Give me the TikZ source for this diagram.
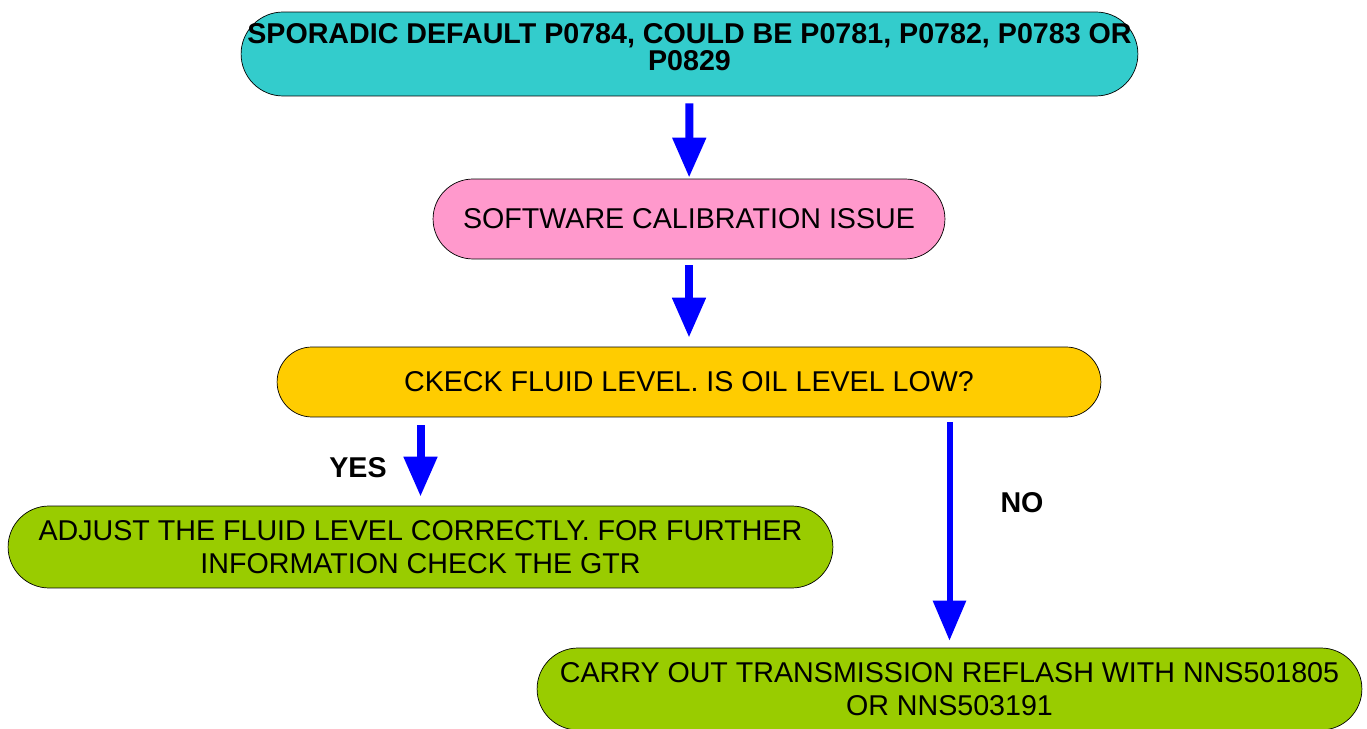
\documentclass[tikz,border=0pt]{standalone}
\usepackage{fontspec}
\setmainfont{Liberation Sans}
\usepackage{tikz}
\usetikzlibrary{arrows.meta,calc,positioning}
\definecolor{boxcyan}{HTML}{33CCCC}
\definecolor{boxpink}{HTML}{FF99CC}
\definecolor{boxyellow}{HTML}{FFCC00}
\definecolor{boxgreen}{HTML}{99CC00}
\definecolor{arrowblue}{HTML}{0000FF}
\tikzset{
    x=0.02cm, y=-0.02cm,
    box/.style ={rectangle, draw, thin, inner sep=0pt, align=center,
                 font=\fontsize{16.3}{19}\selectfont},
    flow/.style = {draw=arrowblue, line width=0.16cm,
                   -{Triangle[width=0.64cm,length=0.8cm]}},
    answer/.style = {inner sep=0pt, font=\fontsize{16.3}{19}\selectfont\bfseries}
}
\begin{document}
\begin{tikzpicture}
    \useasboundingbox (0,0) rectangle (1367,729);

    %%Nodes
    \node[box, fill=boxcyan, minimum width=17.94cm, minimum height=1.68cm, rounded corners=0.84cm,
          font=\fontsize{16.3}{15.5}\selectfont\bfseries, text depth=0.29cm] (sporadic) at (689.5,54)
        {SPORADIC DEFAULT P0784, COULD BE P0781, P0782, P0783 OR\\P0829};
    \node[box, fill=boxpink, minimum width=10.24cm, minimum height=1.6cm, rounded corners=0.8cm] (software) at (689,219)
        {SOFTWARE CALIBRATION ISSUE};
    \node[box, fill=boxyellow, minimum width=16.48cm, minimum height=1.4cm, rounded corners=0.7cm] (ckeck) at (689,382)
        {CKECK FLUID LEVEL. IS OIL LEVEL LOW?};
    \node[box, fill=boxgreen, minimum width=16.5cm, minimum height=1.64cm, rounded corners=0.82cm] (adjust) at (420.5,547)
        {ADJUST THE FLUID LEVEL CORRECTLY. FOR FURTHER\\INFORMATION CHECK THE GTR};
    \node[box, fill=boxgreen, minimum width=16.5cm, minimum height=1.64cm, rounded corners=0.82cm] (reflash) at (949.5,689)
        {CARRY OUT TRANSMISSION REFLASH WITH NNS501805\\OR NNS503191};

    %%Answers
    \node[answer] (yes) at (358,468) {YES};
    \node[answer] (no) at (1022,503) {NO};

    % Directed edge
    \path (sporadic) edge[flow, shorten <=0.14cm, shorten >=0.02cm] (software);
    \path (software) edge[flow, shorten <=0.12cm, shorten >=0.18cm] (ckeck);
    \path (ckeck.south -| adjust.north) edge[flow, shorten <=0.16cm, shorten >=0.18cm] (adjust.north);
    \path (ckeck.south -| reflash.north) edge[flow, line width=0.12cm, shorten <=0.1cm, shorten >=0.14cm] (reflash.north);
\end{tikzpicture}
\end{document}
